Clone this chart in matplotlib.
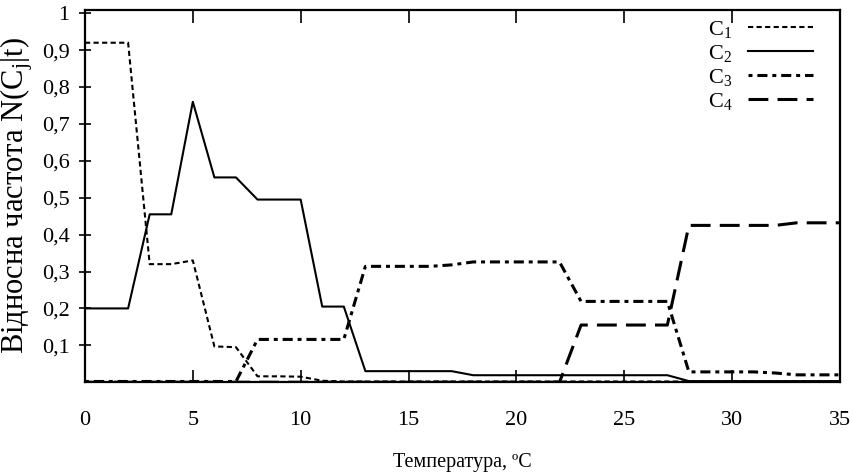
import matplotlib
matplotlib.use("Agg")
import matplotlib.pyplot as plt

# Дані
temp = list(range(36))
c1 = [0.92, 0.92, 0.92, 0.32, 0.32, 0.33, 0.097, 0.095, 0.016, 0.016,
      0.015, 0.004] + [0.002] * 24
c2 = [0.2, 0.2, 0.2, 0.455, 0.455, 0.76, 0.555, 0.555, 0.495, 0.495,
      0.495, 0.205, 0.205, 0.03, 0.03, 0.03, 0.03, 0.03] + [0.019] * 10 + [0.003] * 8
c3 = [0.002] * 8 + [0.116] * 5 + [0.314] * 4 + [0.318] + [0.326] * 5 + [0.219] * 5 \
     + [0.028] * 4 + [0.025, 0.02, 0.02, 0.02]
c4 = [0.0] * 23 + [0.155] * 5 + [0.425] * 5 + [0.432] * 3

x_ticks = [0, 5, 10, 15, 20, 25, 30, 35]
y_ticks = [0.1, 0.2, 0.3, 0.4, 0.5, 0.6, 0.7, 0.8, 0.9, 1.0]
y_labels = ["0,1", "0,2", "0,3", "0,4", "0,5", "0,6", "0,7", "0,8", "0,9", "1"]
names = [r"$\mathrm{C}_1$", r"$\mathrm{C}_2$", r"$\mathrm{C}_3$", r"$\mathrm{C}_4$"]

plt.rcParams["font.family"] = ["Liberation Serif", "DejaVu Serif"]
plt.rcParams["mathtext.fontset"] = "custom"
plt.rcParams["mathtext.rm"] = "Liberation Serif"
plt.rcParams["mathtext.it"] = "Liberation Serif:italic"

fig = plt.figure(figsize=(8.54, 4.76), dpi=100)
ax = fig.add_axes([0.0995, 0.197, 0.884, 0.783])

ax.plot(temp, c1, color="black", lw=1.5, dashes=(2.5, 1.6), label=names[0])
ax.plot(temp, c2, color="black", lw=1.5, label=names[1])
ax.plot(temp, c3, color="black", lw=2.2, dashes=(1.3, 1.6, 3.3, 1.6), label=names[2])
ax.plot(temp, c4, color="black", lw=2.2, dashes=(6.5, 3.0), label=names[3])

ax.set_xlim(0, 35)
ax.set_ylim(0, 1.01)
ax.set_xticks(x_ticks)
ax.set_yticks(y_ticks)
ax.set_yticklabels(y_labels)

ax.tick_params(axis="x", direction="in", top=True, length=9, width=1.2,
               pad=21, labelsize=16)
ax.tick_params(axis="y", direction="inout", length=8, width=1.2,
               pad=7, labelsize=16)
for s in ax.spines.values():
    s.set_linewidth(1.6)

ax.set_xlabel("Температура, ºC", fontsize=14.5, labelpad=16)
ax.set_ylabel("Відносна частота N(C$_\\mathrm{j}$|t)", fontsize=22, labelpad=5)

ax.legend(loc="upper right", bbox_to_anchor=(0.964, 0.975), frameon=False,
          markerfirst=False, fontsize=16, handlelength=2.9, handletextpad=0.72,
          labelspacing=0.14, borderaxespad=0.0, borderpad=0.0)

fig.savefig("out.png", dpi=100, facecolor="white")
